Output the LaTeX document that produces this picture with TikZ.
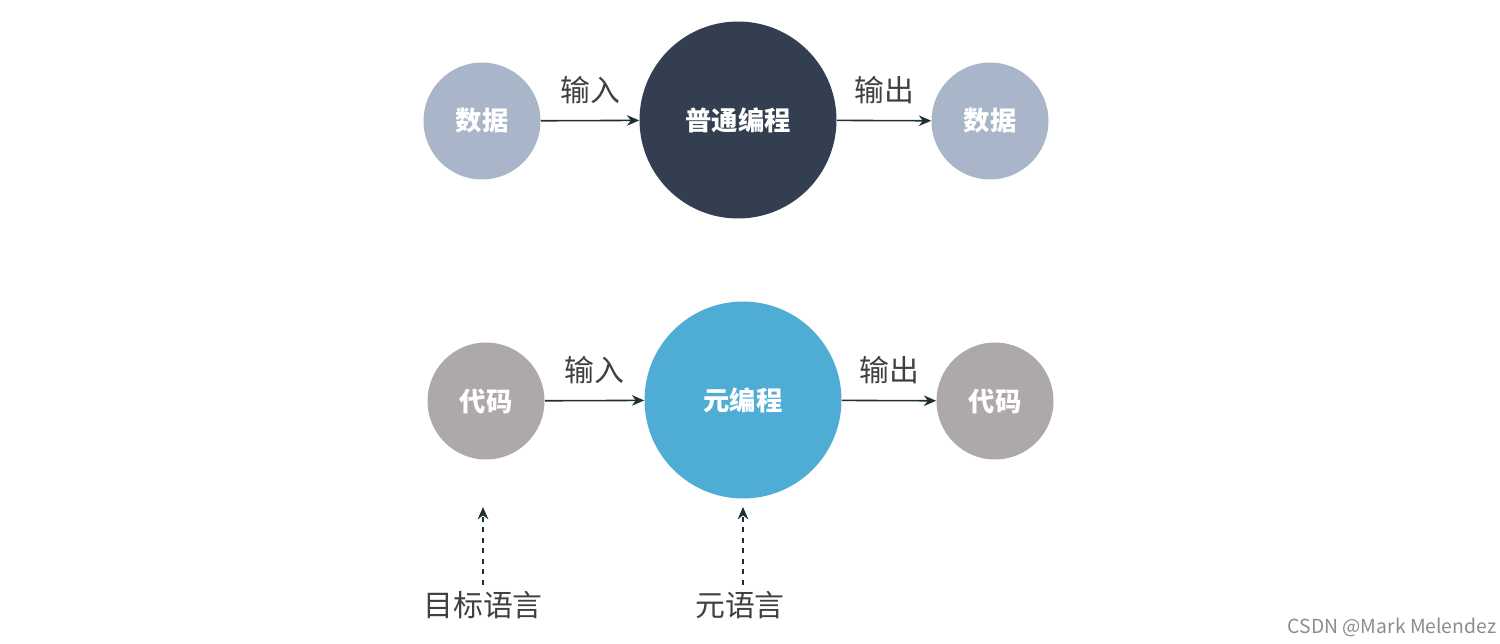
\documentclass[tikz,border=0pt]{standalone}
\usepackage{fontspec}
\setmainfont{Noto Sans CJK SC}
\usetikzlibrary{arrows.meta}
\definecolor{cdata}{HTML}{A9B5C8}
\definecolor{cdark}{HTML}{333F50}
\definecolor{cblue}{HTML}{4EACD5}
\definecolor{cgrey}{HTML}{ADA9A8}
\definecolor{cline}{HTML}{1F2D35}
\begin{document}
\begin{tikzpicture}[x=0.02cm,y=-0.02cm,
  small/.style={circle,minimum size=2.34cm,inner sep=0pt,text=white,font=\fontsize{15}{15}\selectfont\bfseries},
  big/.style={circle,minimum size=3.94cm,inner sep=0pt,text=white,font=\fontsize{15}{15}\selectfont\bfseries},
  lab/.style={text=black!75,font=\fontsize{17}{17}\selectfont},
  arr/.style={draw=cline,line width=0.9pt,-{Stealth[length=7pt,width=6pt]}},
  darr/.style={arr,dashed}]
\useasboundingbox (0,0) rectangle (1500,643);
\node[small,fill=cdata] (d1) at (482,121) {数据};
\node[big,fill=cdark] (p) at (738,120) {普通编程};
\node[small,fill=cdata] (d2) at (990,121) {数据};
\draw[arr] (d1) -- (p) node[lab,midway,above=6pt] {输入};
\draw[arr] (p) -- (d2) node[lab,midway,above=6pt] {输出};
\node[small,fill=cgrey] (c1) at (486,401) {代码};
\node[big,fill=cblue] (m) at (743,400) {元编程};
\node[small,fill=cgrey] (c2) at (995,401) {代码};
\draw[arr] (c1) -- (m) node[lab,midway,above=6pt] {输入};
\draw[arr] (m) -- (c2) node[lab,midway,above=6pt] {输出};
\node[lab] (t1) at (483,605) {目标语言};
\node[lab] (t2) at (740,605) {元语言};
\coordinate (e1) at (483,507);
\coordinate (e2) at (743,507);
\draw[darr] (t1.north) -- (e1);
\draw[darr] (t2.north -| e2) -- (e2);
\node[text=black!45,font=\fontsize{11}{11}\selectfont] (w) at (1392,627) {CSDN @Mark Melendez};
\end{tikzpicture}
\end{document}
